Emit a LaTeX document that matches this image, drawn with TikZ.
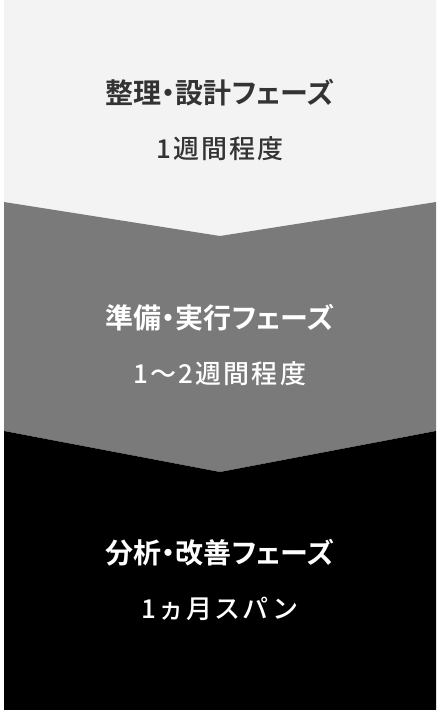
\documentclass[tikz,border=0pt]{standalone}
\usepackage{fontspec}
\usepackage{xcolor}
\usetikzlibrary{positioning}
\newfontfamily\jpfont[RawFeature=+palt]{Noto Sans CJK JP Bold}
\newfontfamily\jpsubfont[LetterSpace=8]{Noto Sans CJK JP Medium}
\definecolor{phaseLight}{HTML}{F3F3F3}
\definecolor{phaseMid}{HTML}{7A7A7A}
\definecolor{phaseDark}{HTML}{000000}
\definecolor{textDark}{HTML}{333333}
\begin{document}
\begin{tikzpicture}
[x=1pt, y=-1pt,
title/.style={inner sep=0pt, font=\jpfont\fontsize{28}{28}\selectfont},
sub/.style={inner sep=0pt, font=\jpsubfont\fontsize{26}{26}\selectfont, below = 56pt of #1.center, anchor=center}]

\useasboundingbox[fill=white] (0,0) rectangle (440,710);
% three phase bands
\fill[phaseLight] (4,0) -- (436,0) -- (436,202) -- (220,236) -- (4,202) -- cycle;
\fill[phaseMid] (4,202) -- (220,236) -- (436,202) -- (436,431) -- (220,472) -- (4,431) -- cycle;
\fill[phaseDark] (4,431) -- (220,472) -- (436,431) -- (436,710) -- (4,710) -- cycle;

\node (design) [title, text=textDark] at (220,93) {整理・設計フェーズ};
\node (designTime) [sub=design, text=textDark] {1週間程度};
\node (prepare) [title, text=white] at (220,318) {準備・実行フェーズ};
\node (prepareTime) [sub=prepare, text=white] {1～2週間程度};
\node (analyze) [title, text=white] at (220,553) {分析・改善フェーズ};
\node (analyzeTime) [sub=analyze, text=white] {1ヵ月スパン};
\end{tikzpicture}
\end{document}
